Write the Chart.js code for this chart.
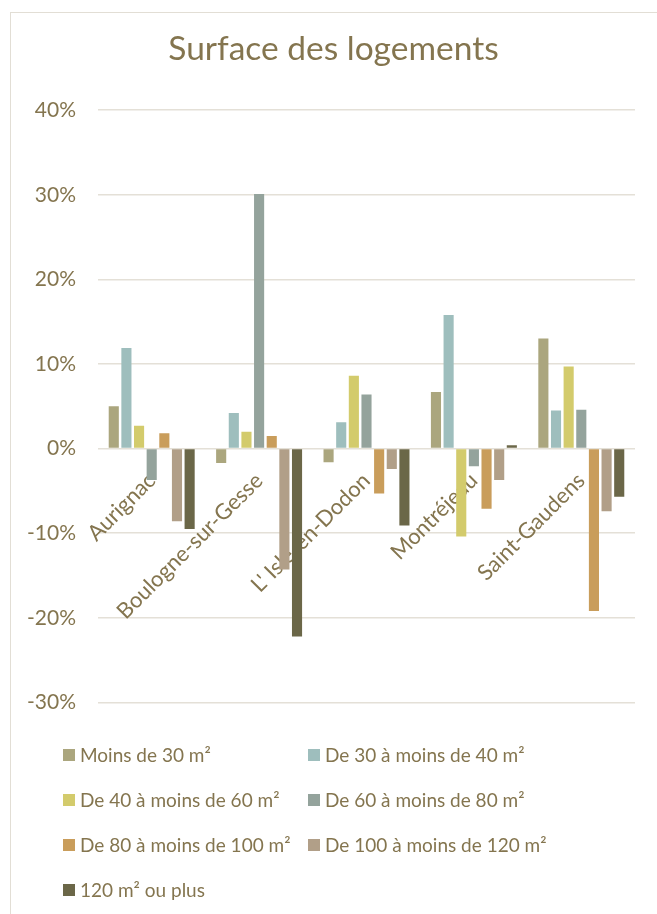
<!DOCTYPE html>
<html>
<head>
<meta charset="utf-8">
<script src="https://cdn.jsdelivr.net/npm/chart.js@4/dist/chart.umd.min.js"></script>
<style>
  html, body { margin: 0; padding: 0; background: #fff; }
  body { width: 657px; height: 914px; position: relative; overflow: hidden; font-family: Lato, sans-serif; }
  #frame { position: absolute; left: 10px; top: 12px; width: 700px; height: 950px;
           border-left: 1.5px solid #e2ded5; border-top: 1.5px solid #e2ded5; }
  #wrap { position: absolute; left: 10px; top: 12px; width: 647px; height: 725px; }
  #legend { position: absolute; left: 63px; top: 732px; width: 590px;
            display: grid; grid-template-columns: 245px 300px; grid-auto-rows: 45px; }
  .item { display: flex; align-items: center; font-size: 19px; color: #84754f; white-space: nowrap; }
  .sw { width: 12px; height: 12px; margin-right: 5px; flex: none; }
</style>
</head>
<body>
<div id="frame"></div>
<div id="wrap"><canvas id="c"></canvas></div>
<div id="legend"></div>
<script>
// valeurs (variation en %)
const communes = ['Aurignac', 'Boulogne-sur-Gesse', "L' Isle-en-Dodon", 'Montréjeau', 'Saint-Gaudens'];
const seriesNames = [
  'Moins de 30 m²', 'De 30 à moins de 40 m²', 'De 40 à moins de 60 m²', 'De 60 à moins de 80 m²',
  'De 80 à moins de 100 m²', 'De 100 à moins de 120 m²', '120 m² ou plus',
];
const moins30   = [5.0, -1.7, -1.6, 6.7, 13.0];
const de30a40   = [11.9, 4.2, 3.1, 15.8, 4.5];
const de40a60   = [2.7, 2.0, 8.6, -10.4, 9.7];
const de60a80   = [-3.7, 30.1, 6.4, -2.1, 4.6];
const de80a100  = [1.8, 1.5, -5.3, -7.1, -19.2];
const de100a120 = [-8.6, -14.3, -2.4, -3.7, -7.4];
const plus120   = [-9.5, -22.2, -9.1, 0.4, -5.7];
const yTicks = [-30, -20, -10, 0, 10, 20, 30, 40];

const colors = ['#aba67e', '#9ebebd', '#d3cb6c', '#94a39c', '#c99d5b', '#b19f88', '#6b6748'];
const txt = '#84754f';
const grid = '#e4e0d7';
const allSeries = [moins30, de30a40, de40a60, de60a80, de80a100, de100a120, plus120];

Chart.defaults.font.family = "Lato, 'Open Sans', sans-serif";
Chart.defaults.color = txt;

new Chart(document.getElementById('c'), {
  type: 'bar',
  data: {
    labels: communes,
    datasets: allSeries.map((d, i) => ({
      label: seriesNames[i], data: d, backgroundColor: colors[i],
      barPercentage: 0.8, categoryPercentage: 0.824,
    })),
  },
  options: {
    responsive: true,
    maintainAspectRatio: false,
    animation: false,
    layout: { padding: { left: 0, right: 0, top: 0, bottom: 21 } },
    plugins: {
      legend: { display: false },
      tooltip: { enabled: false },
      title: {
        display: true, text: 'Surface des logements', color: txt,
        font: { size: 33.5, weight: 'normal' }, padding: { top: 17, bottom: 41 },
      },
    },
    scales: {
      x: {
        position: { y: 0 },
        grid: { display: false },
        border: { display: false },
        ticks: { color: txt, font: { size: 22 }, minRotation: 45, maxRotation: 45, autoSkip: false, padding: 11 },
      },
      y: {
        min: -30, max: 40,
        afterFit: (s) => { s.width = 88; },
        afterBuildTicks: (s) => { s.ticks = yTicks.map((v) => ({ value: v })); },
        grid: { color: grid, lineWidth: 1.5, drawTicks: false },
        border: { display: false },
        ticks: { color: txt, font: { size: 21 }, padding: 22, callback: (v) => v + '%' },
      },
      // marge droite (pour garder le titre centré sur tout le cadre)
      marge: {
        position: 'right',
        afterFit: (s) => { s.width = 22; },
        grid: { display: false },
        border: { display: false },
        ticks: { display: false },
      },
    },
  },
});

// légende sur deux colonnes
const lg = document.getElementById('legend');
seriesNames.forEach((name, i) => {
  const el = document.createElement('div');
  el.className = 'item';
  el.innerHTML = `<span class="sw" style="background:${colors[i]}"></span>${name}`;
  lg.appendChild(el);
});
</script>
</body>
</html>
